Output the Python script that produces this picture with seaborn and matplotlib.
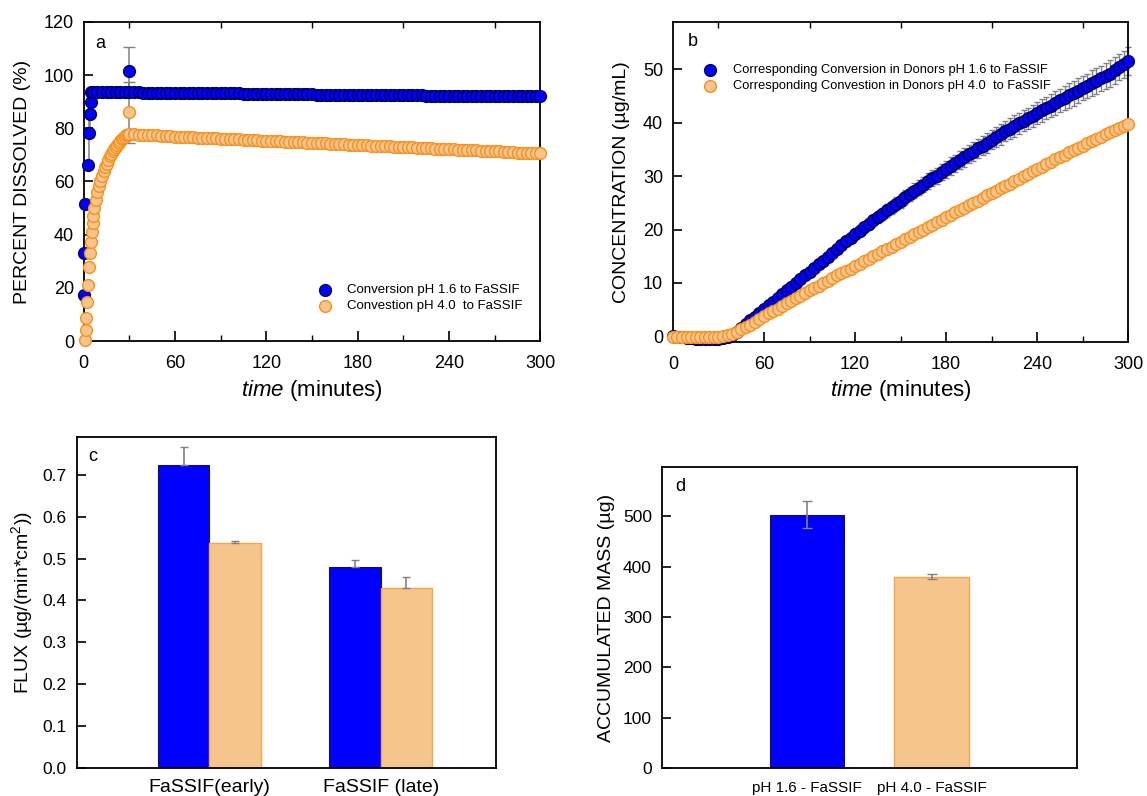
import numpy as np
import pandas as pd
import seaborn as sns
import matplotlib.pyplot as plt
from matplotlib.ticker import MultipleLocator

# ---------------- panel a : percent dissolved ----------------
a_blue_t_early = [0.0, 0.3, 1.0, 2.5, 3.5, 4.0, 4.5, 5.0]
a_blue_early = [17.3, 33.0, 51.4, 66.2, 78.1, 85.3, 90.0, 93.8]
a_blue_err_early = [0, 0, 0, 0, 11.9, 8.5, 0, 0]
# sampled every 3 min from 6 to 300 min
a_blue_plateau = [
    93.7, 93.7, 93.6, 93.6, 93.6, 93.6, 93.5, 93.5, 93.5, 93.5,
    93.5, 93.4, 93.4, 93.4, 93.4, 93.4, 93.3, 93.3, 93.3, 93.3,
    93.3, 93.3, 93.2, 93.2, 93.2, 93.2, 93.2, 93.1, 93.1, 93.1,
    93.1, 93.1, 93.1, 93.0, 93.0, 93.0, 93.0, 93.0, 92.9, 92.9,
    92.9, 92.9, 92.9, 92.9, 92.8, 92.8, 92.8, 92.8, 92.8, 92.7,
    92.7, 92.7, 92.7, 92.7, 92.7, 92.6, 92.6, 92.6, 92.6, 92.6,
    92.6, 92.5, 92.5, 92.5, 92.5, 92.5, 92.5, 92.4, 92.4, 92.4,
    92.4, 92.4, 92.4, 92.3, 92.3, 92.3, 92.3, 92.3, 92.3, 92.3,
    92.2, 92.2, 92.2, 92.2, 92.2, 92.2, 92.2, 92.1, 92.1, 92.1,
    92.1, 92.1, 92.1, 92.1, 92.1, 92.0, 92.0, 92.0, 92.0]
a_blue_t_plateau = np.arange(6, 301, 3)

a_orange_t_early = [1.0, 1.3, 1.6, 2.2, 2.6, 3.7, 4.4, 4.8, 5.3, 5.9, 6.4, 7.0, 8.0, 9.0,
                    10, 11, 12, 13, 14, 15, 16, 17, 18, 19, 20,
                    21, 22, 23, 24, 25, 26, 27, 28, 29, 30]
a_orange_early = [0.4, 4.1, 8.5, 14.8, 21.1, 27.9, 33.0, 37.3, 41.1, 44.3, 47.1, 49.9, 53.0, 56.2,
                  58.3, 60.1, 62.1, 63.8, 65.3, 66.7, 68.1, 69.4, 70.4, 71.4, 72.3,
                  73.1, 73.8, 74.5, 75.2, 75.8, 76.4, 76.9, 77.3, 77.6, 77.8]
# sampled every 3 min from 33 to 300 min
a_orange_plateau = [
    77.7, 77.6, 77.5, 77.4, 77.4, 77.3, 77.2, 77.1, 77.0, 76.9,
    76.9, 76.8, 76.7, 76.6, 76.5, 76.5, 76.4, 76.3, 76.2, 76.1,
    76.1, 76.0, 75.9, 75.8, 75.7, 75.7, 75.6, 75.5, 75.4, 75.3,
    75.3, 75.2, 75.1, 75.0, 74.9, 74.9, 74.8, 74.7, 74.6, 74.5,
    74.5, 74.4, 74.3, 74.2, 74.1, 74.1, 74.0, 73.9, 73.8, 73.7,
    73.7, 73.6, 73.5, 73.4, 73.3, 73.3, 73.2, 73.1, 73.0, 72.9,
    72.9, 72.8, 72.7, 72.6, 72.5, 72.5, 72.4, 72.3, 72.2, 72.1,
    72.1, 72.0, 71.9, 71.8, 71.7, 71.7, 71.6, 71.5, 71.4, 71.3,
    71.3, 71.2, 71.1, 71.0, 70.9, 70.9, 70.8, 70.8, 70.7, 70.7]
a_orange_t_plateau = np.arange(33, 301, 3)

# single measured points at 30 min
a_spot_t = [30, 30]
a_spot_val = [101.7, 86.0]
a_spot_err = [9.0, 11.6]

# ---------------- panel b : donor concentration ----------------
b_t = np.arange(0, 301, 3)
b_blue = [
    0.0, -0.1, -0.2, -0.3, -0.3, -0.4, -0.4, -0.5, -0.5, -0.5,
    -0.4, -0.3, -0.1, 0.3, 0.9, 1.6, 2.3, 3.0, 3.7, 4.4,
    5.1, 5.8, 6.5, 7.2, 7.9, 8.6, 9.3, 10.0, 10.7, 11.4,
    12.1, 12.8, 13.5, 14.2, 14.9, 15.6, 16.3, 17.1, 17.8, 18.5,
    19.2, 19.8, 20.4, 21.0, 21.7, 22.3, 22.9, 23.6, 24.2, 24.8,
    25.4, 26.1, 26.7, 27.3, 27.8, 28.4, 29.0, 29.6, 30.1, 30.7,
    31.3, 31.9, 32.4, 33.0, 33.5, 34.1, 34.6, 35.2, 35.7, 36.2,
    36.8, 37.3, 37.8, 38.4, 38.9, 39.4, 39.9, 40.4, 40.8, 41.3,
    41.8, 42.3, 42.8, 43.2, 43.7, 44.2, 44.6, 45.1, 45.5, 46.0,
    46.5, 46.9, 47.4, 47.8, 48.3, 48.8, 49.2, 49.8, 50.4, 50.9,
    51.5]
b_blue_err = [
    0.1, 0.1, 0.1, 0.1, 0.1, 0.1, 0.1, 0.1, 0.1, 0.1,
    0.1, 0.1, 0.1, 0.1, 0.1, 0.1, 0.1, 0.2, 0.2, 0.2,
    0.3, 0.3, 0.3, 0.4, 0.4, 0.4, 0.5, 0.5, 0.5, 0.6,
    0.6, 0.6, 0.7, 0.7, 0.7, 0.8, 0.8, 0.9, 0.9, 0.9,
    1.0, 1.0, 1.0, 1.1, 1.1, 1.1, 1.1, 1.2, 1.2, 1.2,
    1.3, 1.3, 1.3, 1.4, 1.4, 1.4, 1.5, 1.5, 1.5, 1.5,
    1.6, 1.6, 1.6, 1.7, 1.7, 1.7, 1.7, 1.8, 1.8, 1.8,
    1.8, 1.9, 1.9, 1.9, 1.9, 2.0, 2.0, 2.0, 2.0, 2.1,
    2.1, 2.1, 2.1, 2.2, 2.2, 2.2, 2.2, 2.3, 2.3, 2.3,
    2.3, 2.3, 2.4, 2.4, 2.4, 2.4, 2.5, 2.5, 2.5, 2.5,
    2.6]
b_orange = [
    -0.1, -0.1, -0.1, -0.1, -0.1, -0.1, -0.1, -0.1, -0.1, -0.1,
    -0.1, 0.0, 0.2, 0.5, 0.9, 1.3, 1.7, 2.2, 2.7, 3.3,
    3.8, 4.3, 4.8, 5.2, 5.7, 6.2, 6.7, 7.2, 7.6, 8.1,
    8.6, 9.1, 9.5, 10.0, 10.4, 10.9, 11.4, 11.8, 12.3, 12.7,
    13.2, 13.6, 14.1, 14.5, 15.0, 15.4, 15.9, 16.4, 16.8, 17.3,
    17.7, 18.2, 18.6, 19.1, 19.5, 20.0, 20.4, 20.9, 21.4, 21.8,
    22.3, 22.7, 23.2, 23.6, 24.1, 24.5, 25.0, 25.4, 25.9, 26.4,
    26.8, 27.3, 27.7, 28.2, 28.6, 29.1, 29.5, 30.0, 30.4, 30.9,
    31.4, 31.8, 32.3, 32.7, 33.2, 33.6, 34.0, 34.5, 34.9, 35.3,
    35.7, 36.2, 36.6, 37.0, 37.4, 37.9, 38.3, 38.7, 39.0, 39.4,
    39.8]

# ---------------- panel c : flux ----------------
flux_groups = ['FaSSIF(early)', 'FaSSIF (late)']
flux_ph16 = [0.724, 0.480]
flux_ph16_err = [0.043, 0.016]
flux_ph40 = [0.536, 0.430]
flux_ph40_err = [0.007, 0.027]

# ---------------- panel d : accumulated mass ----------------
mass_labels = ['pH 1.6 - FaSSIF', 'pH 4.0 - FaSSIF']
mass_vals = [503, 380]
mass_err = [27, 4.5]

label_a = ['Conversion pH 1.6 to FaSSIF', 'Convestion pH 4.0  to FaSSIF']
label_b = ['Corresponding Conversion in Donors pH 1.6 to FaSSIF',
           'Corresponding Convestion in Donors pH 4.0  to FaSSIF']

# colours
BLUE = '#0000ff'
BLUE_EDGE = '#000058'
PEACH = '#f6c58c'
PEACH_EDGE = '#f7901e'
ERR = '#808080'

sns.set_style('ticks')
plt.rcParams['font.family'] = ['Liberation Sans', 'DejaVu Sans']
plt.rcParams['mathtext.fontset'] = 'custom'
plt.rcParams['mathtext.rm'] = 'Liberation Sans'
plt.rcParams['mathtext.it'] = 'Liberation Sans:italic'
plt.rcParams['axes.edgecolor'] = 'black'
plt.rcParams['axes.linewidth'] = 1.3
plt.rcParams['text.color'] = 'black'
plt.rcParams['axes.labelcolor'] = 'black'
plt.rcParams['xtick.color'] = 'black'
plt.rcParams['ytick.color'] = 'black'

fig = plt.figure(figsize=(11.47, 7.96), dpi=100)
ax_a = fig.add_axes([0.0730, 0.5716, 0.3981, 0.4008])
ax_b = fig.add_axes([0.5867, 0.5707, 0.3970, 0.4020])
ax_c = fig.add_axes([0.0674, 0.0356, 0.3648, 0.4151])
ax_d = fig.add_axes([0.5774, 0.0348, 0.3613, 0.3789])

SZ = 72


def time_axis(ax):
    ax.set_xlim(0, 300)
    ax.xaxis.set_major_locator(MultipleLocator(60))
    ax.xaxis.set_minor_locator(MultipleLocator(30))
    ax.tick_params(axis='x', which='major', direction='in', length=7, width=1.2,
                   labelsize=13, pad=10, top=False)
    ax.tick_params(axis='x', which='minor', direction='in', length=4.5, width=1.0,
                   top=True)
    ax.tick_params(axis='y', which='major', direction='in', length=6.5, width=1.2,
                   labelsize=13, pad=7)
    ax.set_xlabel(r'$\mathit{time}$ (minutes)', fontsize=16)


# ---- panel a ----
blue_t = list(a_blue_t_early) + list(a_blue_t_plateau) + [a_spot_t[0]]
blue_v = a_blue_early + a_blue_plateau + [a_spot_val[0]]
orange_t = list(a_orange_t_early) + list(a_orange_t_plateau) + [a_spot_t[1]]
orange_v = a_orange_early + a_orange_plateau + [a_spot_val[1]]

ax_a.errorbar(a_blue_t_early, a_blue_early, yerr=a_blue_err_early, fmt='none',
              ecolor=ERR, elinewidth=1.1, capsize=3, zorder=2, clip_on=False)
ax_a.errorbar(a_spot_t, a_spot_val, yerr=a_spot_err, fmt='none',
              ecolor=ERR, elinewidth=1.1, capsize=4, zorder=2)
sns.scatterplot(x=blue_t, y=blue_v, color=BLUE, edgecolor=BLUE_EDGE, linewidth=1.0,
                s=SZ, ax=ax_a, label=label_a[0], clip_on=False, zorder=3)
sns.scatterplot(x=orange_t, y=orange_v, color=PEACH, edgecolor=PEACH_EDGE, linewidth=1.0,
                s=SZ, ax=ax_a, label=label_a[1], clip_on=False, zorder=4)
time_axis(ax_a)
ax_a.set_ylim(0, 120)
ax_a.yaxis.set_major_locator(MultipleLocator(20))
ax_a.set_ylabel('PERCENT DISSOLVED (%)', fontsize=14)
ax_a.yaxis.set_label_coords(-0.116, 0.5)
ax_a.xaxis.set_label_coords(0.5, -0.115)
ax_a.legend(loc='upper left', bbox_to_anchor=(0.514, 0.178), bbox_transform=ax_a.transAxes,
            frameon=False, fontsize=9.5, handlelength=1.0, handletextpad=1.14,
            borderpad=0, borderaxespad=0, labelspacing=0.25)
ax_a.text(0.036, 0.934, 'a', transform=ax_a.transAxes, fontsize=13, ha='center', va='center')

# ---- panel b ----
ax_b.errorbar(b_t, b_blue, yerr=b_blue_err, fmt='none', ecolor=ERR, elinewidth=1.0,
              capsize=2.5, zorder=2, clip_on=False)
sns.scatterplot(x=b_t, y=b_blue, color=BLUE, edgecolor=BLUE_EDGE, linewidth=1.0,
                s=SZ, ax=ax_b, label=label_b[0], clip_on=False, zorder=3)
sns.scatterplot(x=b_t, y=b_orange, color=PEACH, edgecolor=PEACH_EDGE, linewidth=1.0,
                s=SZ, ax=ax_b, label=label_b[1], clip_on=False, zorder=4)
time_axis(ax_b)
ax_b.set_ylim(-1, 58.9)
ax_b.yaxis.set_major_locator(MultipleLocator(10))
ax_b.set_ylabel('CONCENTRATION (µg/mL)', fontsize=14)
ax_b.yaxis.set_label_coords(-0.094, 0.5)
ax_b.xaxis.set_label_coords(0.5, -0.113)
ax_b.legend(loc='upper left', bbox_to_anchor=(0.067, 0.868), bbox_transform=ax_b.transAxes,
            frameon=False, fontsize=9.3, handlelength=1.0, handletextpad=1.25,
            borderpad=0, borderaxespad=0, labelspacing=0.3)
ax_b.text(0.044, 0.9375, 'b', transform=ax_b.transAxes, fontsize=13, ha='center', va='center')

# ---- panel c ----
df_flux = pd.DataFrame({
    'period': flux_groups * 2,
    'solution': ['pH 1.6'] * 2 + ['pH 4.0'] * 2,
    'flux': flux_ph16 + flux_ph40,
})
sns.barplot(data=df_flux, x='period', y='flux', hue='solution', palette=[BLUE, PEACH],
            width=0.6, saturation=1, errorbar=None, legend=False, ax=ax_c)
for cont, edge, lw, vals, errs in zip(ax_c.containers, ['#1a1a1a', '#f7a451'], [0.8, 1.0],
                                      [flux_ph16, flux_ph40], [flux_ph16_err, flux_ph40_err]):
    xs = []
    for bar in cont:
        bar.set_edgecolor(edge)
        bar.set_linewidth(lw)
        xs.append(bar.get_x() + bar.get_width() / 2)
    ax_c.errorbar(xs, vals, yerr=[[0] * len(errs), errs], fmt='none', ecolor=ERR,
                  elinewidth=1.2, capsize=3, zorder=3)
ax_c.set_xlim(-0.770, 1.671)
ax_c.set_ylim(0, 0.79)
ax_c.yaxis.set_major_locator(MultipleLocator(0.1))
ax_c.tick_params(axis='y', direction='in', length=6.5, width=1.2, labelsize=12.5, pad=8)
ax_c.tick_params(axis='x', length=0, labelsize=14, pad=8)
ax_c.set_xlabel('')
ax_c.set_ylabel('FLUX (µg/(min*cm$^2$))', fontsize=14)
ax_c.yaxis.set_label_coords(-0.101, 0.5)
ax_c.text(0.038, 0.943, 'c', transform=ax_c.transAxes, fontsize=13, ha='center', va='center')

# ---- panel d ----
sns.barplot(x=mass_labels, y=mass_vals, hue=mass_labels, palette=[BLUE, PEACH],
            width=0.6, saturation=1, errorbar=None, legend=False, ax=ax_d)
xs = []
for bar, edge, lw in zip(ax_d.patches, ['#1a1a1a', '#f7a451'], [0.8, 1.0]):
    bar.set_edgecolor(edge)
    bar.set_linewidth(lw)
    xs.append(bar.get_x() + bar.get_width() / 2)
ax_d.errorbar(xs, mass_vals, yerr=mass_err, fmt='none', ecolor=ERR, elinewidth=1.2,
              capsize=3.5, zorder=3)
ax_d.set_xlim(-1.166, 2.168)
ax_d.set_ylim(0, 598)
ax_d.yaxis.set_major_locator(MultipleLocator(100))
ax_d.tick_params(axis='y', direction='in', length=6.5, width=1.2, labelsize=12.5, pad=7.5)
ax_d.tick_params(axis='x', length=0, labelsize=11, pad=9)
ax_d.set_ylabel('ACCUMULATED MASS (µg)', fontsize=14)
ax_d.yaxis.set_label_coords(-0.114, 0.5)
ax_d.text(0.043, 0.934, 'd', transform=ax_d.transAxes, fontsize=13, ha='center', va='center')

for ax in (ax_a, ax_b, ax_c, ax_d):
    for sp in ax.spines.values():
        sp.set_visible(True)
        sp.set_color('black')
        sp.set_linewidth(1.3)

fig.savefig('out.png', dpi=100)
